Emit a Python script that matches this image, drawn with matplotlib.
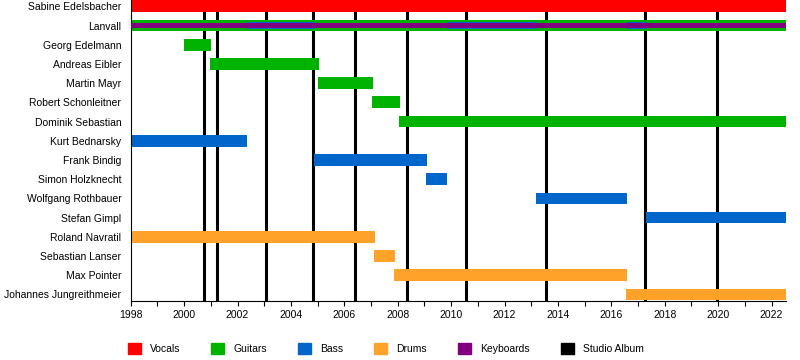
import matplotlib
matplotlib.use("Agg")
import matplotlib.pyplot as plt
from matplotlib.patches import Patch

plt.rcParams['font.family'] = ['Liberation Sans', 'DejaVu Sans']

# ==================== DADOS ====================
membros = ["Sabine Edelsbacher", "Lanvall", "Georg Edelmann", "Andreas Eibler",
           "Martin Mayr", "Robert Schonleitner", "Dominik Sebastian",
           "Kurt Bednarsky", "Frank Bindig", "Simon Holzknecht",
           "Wolfgang Rothbauer", "Stefan Gimpl", "Roland Navratil",
           "Sebastian Lanser", "Max Pointer", "Johannes Jungreithmeier"]

FIM = 2022.54

# cada passagem: membro, funcao, inicio, fim
passagem_membro = ["Sabine Edelsbacher",
                   "Lanvall", "Lanvall", "Lanvall", "Lanvall", "Lanvall",
                   "Georg Edelmann", "Andreas Eibler", "Martin Mayr",
                   "Robert Schonleitner", "Dominik Sebastian",
                   "Kurt Bednarsky", "Frank Bindig", "Simon Holzknecht",
                   "Wolfgang Rothbauer", "Stefan Gimpl",
                   "Roland Navratil", "Sebastian Lanser", "Max Pointer",
                   "Johannes Jungreithmeier"]
passagem_funcao = ["Vocals",
                   "Guitars", "Bass", "Bass", "Bass", "Keyboards",
                   "Guitars", "Guitars", "Guitars", "Guitars", "Guitars",
                   "Bass", "Bass", "Bass", "Bass", "Bass",
                   "Drums", "Drums", "Drums", "Drums"]
passagem_inicio = [1998.0,
                   1998.0, 2002.34, 2009.83, 2016.58, 1998.0,
                   2000.0, 2000.97, 2005.01, 2007.04, 2008.05,
                   1998.0, 2004.87, 2009.06, 2013.19, 2017.3,
                   1998.0, 2007.11, 2007.86, 2016.56]
passagem_fim = [FIM,
                FIM, 2004.9, 2013.2, 2017.33, FIM,
                2001.0, 2005.05, 2007.07, 2008.09, FIM,
                2002.34, 2009.09, 2009.85, 2016.6, FIM,
                2007.15, 2007.9, 2016.6, FIM]

albuns = [2000.75, 2001.24, 2003.08, 2004.84, 2006.41,
          2008.34, 2010.57, 2013.55, 2017.27, 2019.97]

funcoes = ["Vocals", "Guitars", "Bass", "Drums", "Keyboards"]
cores = {"Vocals": "#ff0000", "Guitars": "#00b300", "Bass": "#0066cc",
         "Drums": "#ffa22a", "Keyboards": "#800080"}
# ================================================

fig = plt.figure(figsize=(8, 3.6), dpi=100)
ax = fig.add_axes([0.1634, 0.1647, 0.8191, 0.8353])

# linhas dos albuns de estudio (atras das barras)
for ano in albuns:
    ax.axvline(ano, color="black", lw=2.2, zorder=1)

# barras: a segunda/terceira funcao de um membro fica mais fina
alturas = [0.61, 0.38, 0.23]
ordem_funcoes = {}
for m, f, ini, fim in zip(passagem_membro, passagem_funcao, passagem_inicio, passagem_fim):
    lista = ordem_funcoes.setdefault(m, [])
    if f not in lista:
        lista.append(f)
    nivel = lista.index(f)
    ax.barh(membros.index(m), fim - ini, left=ini, height=alturas[nivel],
            color=cores[f], zorder=2 + nivel)

ax.set_xlim(1998, FIM)
ax.set_ylim(15.33, -0.33)
ax.set_yticks(range(len(membros)))
ax.set_yticklabels(membros, fontsize=7.5)
ax.tick_params(axis="y", length=0, pad=6.8)
ax.set_xticks(range(1998, 2023, 2))
ax.set_xticks(range(1998, 2023), minor=True)
ax.tick_params(axis="x", which="both", length=3.5, width=0.8, labelsize=7.5, pad=3.5)
for lado in ["top", "right"]:
    ax.spines[lado].set_visible(False)

# legenda
handles = [Patch(color=cores[f], label=f) for f in funcoes]
handles.append(Patch(color="black", label="Studio Album"))
fig.legend(handles=handles, loc="center left", bbox_to_anchor=(0.1596, 0.031),
           ncol=6, frameon=False, fontsize=7.5, handlelength=1.25,
           handleheight=1.25, handletextpad=0.85, columnspacing=3.0,
           borderpad=0, borderaxespad=0)

plt.savefig("out.png", dpi=100)
